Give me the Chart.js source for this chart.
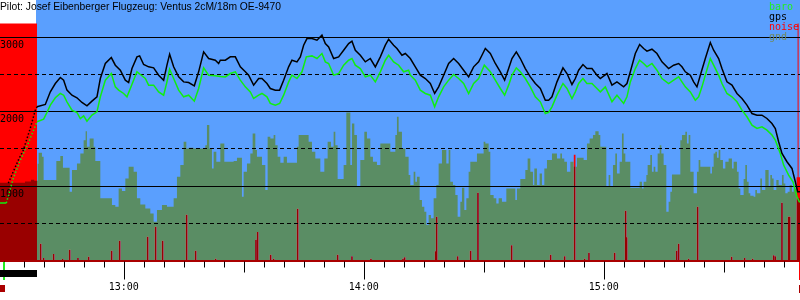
<!DOCTYPE html>
<html><head><meta charset="utf-8">
<script src="https://cdn.jsdelivr.net/npm/chart.js@4.4.0/dist/chart.umd.min.js"></script>
<style>html,body{margin:0;padding:0;background:#fff}#wrap{width:800px;height:300px}</style>
</head><body><div id="wrap"><canvas id="c" width="800" height="300"></canvas></div>
<script>
// ---- texts ----
const titleText = "Pilot: Josef Eibenberger Flugzeug: Ventus 2cM/18m OE-9470";
const seriesNames = ["baro", "gps", "noise", "gnd"];
// ---- axes (time in minutes after midnight, altitude in m) ----
const timeMin = 749.05, timeMax = 949.05;
const altMin = 0, altMax = 3500;
const yTickLabels = [1000, 2000, 3000];
const yDashedTicks = [500, 1500, 2500];
const xTickTimes = [780, 840, 900];
const xTickLabels = ["13:00", "14:00", "15:00"];
const flightStart = 758.05;      // plot background begins
const engineRun = [749.05, 758.3];
const takeoffMark = 750.13, landingMark = 948.85;
const dotted = {baro: [750.6, 758.3], gps: [751.0, 758.3]};

// ---- series ----
const gpsTrack = [[751.13,1040],[753.63,1349],[754.88,1483],[756.63,1779],[757.88,2020],
[758.29,2065],[760.38,2096],[761.63,2266],[762.88,2378],[764.13,2459],[764.96,2423],[765.79,2289],[767.04,2221],[768.29,2186],[769.54,2123],[770.79,2078],[772.04,2141],[773.29,2199],[774.13,2445],[775.38,2647],[776.88,2727],[777.88,2624],[779.13,2557],[780.38,2423],[781.21,2391],[782.04,2579],[783.29,2736],[783.96,2749],[784.96,2633],[786.21,2602],[787.46,2588],[788.71,2490],[789.96,2423],[790.79,2624],[791.46,2772],[792.46,2602],[793.71,2467],[794.96,2400],[796.21,2391],[797.63,2347],[798.71,2535],[799.96,2803],[801.21,2714],[802.88,2691],[803.71,2647],
[804.13,2691],[805.38,2691],[806.63,2736],[807.88,2736],[809.13,2602],[810.38,2535],[811.21,2490],[812.46,2356],[813.71,2445],[814.54,2445],[815.79,2378],[816.63,2311],[817.88,2289],[818.96,2289],[819.96,2423],[821.21,2602],[822.04,2691],[823.29,2669],[824.13,2736],[824.96,2893],[825.79,2982],[827.04,2982],[828.29,2960],[829.54,3027],[830.38,2915],[831.21,2870],[832.46,2714],[833.71,2736],[834.96,2825],[836.21,2915],[837.04,2946],[837.88,2825],[839.13,2758],[840.38,2669],[841.63,2714],[842.88,2602],[844.13,2736],[845.38,2893],[846.21,2973],[847.46,2893],[848.29,2848],[849.54,2758],[850.38,2781],
[851.63,2714],[852.88,2602],[854.13,2490],[855.38,2445],[856.63,2378],[857.71,2244],[858.71,2333],[859.96,2490],[861.21,2647],[862.46,2714],[863.71,2647],[864.96,2557],[866.21,2467],[867.46,2602],[868.71,2669],[869.54,2758],[870.38,2848],[871.63,2781],[872.88,2647],[874.13,2535],[875.21,2423],[876.21,2579],[877.04,2714],[878.13,2803],[879.13,2714],[880.38,2579],[881.63,2467],[882.88,2378],[884.13,2311],[885.38,2154],[886.21,2154],[887.04,2199],[888.29,2400],[889.79,2588],[890.79,2512],[892.04,2365],[892.88,2445],[893.71,2557],[894.79,2633],[895.79,2579],[897.04,2579],[898.29,2490],
[899.13,2445],[900.79,2512],[902.04,2356],[903.29,2400],[904.96,2333],[905.79,2378],[906.63,2535],[907.88,2781],[908.96,2902],[909.96,2848],[910.79,2812],[912.04,2839],[913.29,2781],[914.54,2669],[916.21,2579],[917.46,2624],[918.71,2647],[919.54,2602],[920.38,2535],[921.63,2490],[922.46,2400],[923.29,2333],[924.13,2490],[925.38,2714],[926.63,2928],[927.46,2825],[928.71,2714],[929.54,2579],[930.79,2400],[932.04,2356],[933.29,2244],[934.54,2177],[935.79,2087],[937.04,1975],[938.29,1953],[939.54,1953],[940.79,1908],[942.04,1841],[942.88,1774],[943.71,1595],[944.54,1438],[945.79,1327],[947.04,1237],[947.88,1058],[948.46,924],[949.13,924]];

const baroTrack = [[749.05,772],[750.63,772],[752.38,1107],[754.13,1349],[756.13,1577],
[758.29,1864],[759.96,1899],[760.79,1989],[761.63,2087],[762.88,2186],[764.13,2244],[764.96,2221],[765.79,2132],[767.04,2020],[768.29,1989],[769.13,1908],[769.96,1944],[770.79,1872],[772.04,1953],[773.29,1998],[774.13,2199],[775.38,2423],[776.88,2512],[777.88,2333],[778.71,2289],[779.96,2244],[780.79,2199],[781.63,2311],[783.29,2535],[784.13,2499],[785.38,2445],[786.21,2356],[787.46,2356],[788.71,2266],[789.96,2221],[790.79,2400],[791.46,2570],[792.46,2445],[793.71,2289],[794.96,2199],[796.21,2221],[797.63,2141],[798.71,2311],[799.96,2588],[801.21,2490],[802.88,2481],
[804.13,2472],[805.38,2467],[806.63,2512],[807.88,2535],[809.13,2423],[810.38,2333],[811.63,2266],[812.46,2177],[813.71,2221],[814.54,2244],[815.79,2199],[816.63,2110],[817.88,2087],[818.96,2110],[819.96,2221],[821.21,2400],[822.04,2490],[823.29,2445],[824.54,2535],[825.63,2736],[827.04,2749],[828.29,2714],[829.54,2781],[830.38,2669],[831.21,2647],[832.46,2490],[833.71,2512],[834.96,2624],[836.21,2691],[837.04,2714],[837.88,2624],[839.13,2579],[840.38,2467],[841.63,2490],[842.88,2400],[844.13,2535],[845.38,2691],[846.21,2758],[847.46,2669],[848.71,2624],[849.96,2535],[851.21,2557],
[851.63,2490],[852.88,2423],[854.13,2289],[855.38,2244],[856.63,2221],[857.71,2065],[858.71,2199],[859.96,2333],[861.21,2423],[862.46,2499],[863.71,2445],[864.96,2378],[866.21,2244],[867.46,2378],[868.71,2445],[870.13,2624],[871.63,2535],[872.88,2423],[874.13,2311],[875.21,2221],[876.21,2356],[877.04,2490],[878.13,2588],[879.13,2535],[880.38,2445],[881.63,2333],[882.88,2199],[884.13,2132],[885.38,1975],[886.21,1989],[887.04,2065],[888.29,2221],[889.79,2378],[890.79,2311],[892.04,2177],[892.88,2266],[893.71,2378],[894.79,2445],[895.79,2378],[897.04,2378],[898.29,2311],
[899.13,2266],[900.38,2333],[902.04,2132],[903.29,2221],[904.96,2110],[905.79,2199],[906.63,2400],[907.88,2579],[908.96,2691],[909.96,2647],[910.79,2602],[912.04,2647],[913.29,2557],[914.54,2445],[916.21,2378],[917.46,2423],[918.71,2467],[919.54,2400],[920.38,2333],[921.63,2266],[922.88,2154],[923.71,2199],[924.54,2333],[925.63,2535],[926.63,2714],[927.46,2624],[928.71,2490],[929.54,2378],[930.79,2244],[932.04,2199],[933.29,2132],[934.54,2020],[935.79,1931],[937.04,1819],[938.29,1774],[939.54,1796],[940.79,1752],[942.04,1685],[942.88,1617],[944.13,1438],[944.96,1282],[946.21,1148],[947.29,1058],[948.29,857],[948.88,790],[949.13,790]];

const gndSteps = [[749.05,1045],[755.3,1060],[756.8,1085],[757.6,1070],
[758.46,1300],[758.71,1447],[759.54,1394],[759.96,1081],[763.13,1336],[764.13,1403],[764.79,1246],[766.46,924],[767.04,1215],[768.29,1304],[769.13,1438],[769.96,1617],[770.46,1738],[770.79,1528],[771.46,1640],[772.46,1528],[772.88,1336],[774.13,835],[777.04,745],[777.88,723],[778.71,969],[779.54,933],[780.38,1103],[781.21,1260],[782.46,1192],[783.29,835],[784.13,754],[785.38,700],[786.63,633],[787.46,521],[788.29,678],[789.54,745],[790.79,723],[792.46,835],[793.29,1125],[794.13,1282],[794.96,1595],[795.63,1506],[796.21,1515],[797.46,1506],[800.38,1550],[800.79,1819],[801.38,1506],[802.04,1237],[802.46,1461],[803.13,1327],
[804.13,1573],[805.13,1327],[807.46,1336],[808.29,1380],[809.54,857],[809.96,1192],[810.79,1304],[811.63,1438],[812.21,1707],[812.88,1483],[813.29,1394],[814.54,1282],[815.38,946],[815.96,1662],[816.63,1640],[817.46,1685],[817.88,1550],[818.46,1394],[819.13,1313],[819.96,1394],[820.79,1313],[823.29,1528],[823.71,1685],[826.21,1595],[827.04,1461],[827.88,1371],[829.13,1192],[830.13,1371],[830.96,1595],[831.79,1528],[832.46,1729],[832.88,1550],[833.46,1094],[834.96,1282],[835.63,1989],[836.63,1282],[837.04,1841],[837.63,1685],[838.29,991],[839.13,1349],[840.13,1729],[840.79,1640],[841.63,1394],[842.29,1327],[843.29,1282],[844.13,1573],[846.63,1461],[847.88,1685],[848.29,1931],[848.71,1729],[849.54,1506],[850.38,1394],[851.21,1148],
[851.63,1013],[852.46,1192],[852.88,1058],[853.29,1125],[853.96,812],[854.54,723],[855.13,656],[855.63,477],[856.21,611],[856.79,566],[857.46,835],[858.13,1013],[858.71,1304],[859.54,1483],[860.63,1304],[861.21,1483],[861.63,1058],[862.29,1013],[862.88,879],[863.46,588],[864.13,790],[864.54,978],[865.13,678],[865.63,835],[866.21,1192],[866.63,1327],[868.29,1438],[869.96,1595],[870.38,1573],[871.21,1461],[871.63,879],[872.46,835],[873.13,767],[873.71,835],[874.54,790],[875.63,969],[877.88,812],[878.29,969],[879.13,1094],[880.38,1215],[880.96,1371],[881.63,1192],[882.29,1013],[882.63,1237],[883.29,1013],[883.96,1170],[884.54,1013],[885.13,1237],[885.79,1349],[887.04,1438],[888.29,1371],[889.13,1438],[889.54,1371],[890.13,1327],[890.79,1192],[891.63,1327],[892.46,1260],[893.29,1380],[894.96,1349],[895.79,1573],[896.46,1640],[897.29,1685],[897.88,1738],[898.71,1685],
[899.13,1528],[900.63,991],[901.21,1148],[901.63,991],[902.29,1282],[902.88,1438],[903.29,1170],[903.96,1327],[904.54,1707],[904.96,1438],[905.38,1327],[906.63,978],[908.96,1058],[909.54,969],[909.96,1058],[910.63,1148],[910.96,1282],[911.63,1416],[912.04,1192],[912.46,1260],[912.88,1192],[913.46,1438],[913.96,1550],[914.38,1438],[914.96,1282],[915.63,656],[916.21,790],[916.63,924],[917.04,1157],[919.13,1617],[919.54,1685],[920.38,1729],[920.79,1573],[921.21,1685],[921.63,1192],[922.46,902],[923.29,1192],[923.71,1349],[924.13,1260],[926.63,1170],[927.04,1260],[927.46,1438],[927.88,1461],[928.29,1380],[928.71,1483],[929.13,1349],[929.79,1237],[930.38,1327],[931.21,1371],[932.04,1237],[932.46,1327],[933.29,1192],[933.71,969],[934.13,879],[934.96,1094],[935.38,1282],[935.79,1058],[936.21,902],[936.63,870],[937.46,857],[937.88,946],[938.29,902],[939.13,1103],[939.54,946],[940.38,1215],[941.21,991],[941.63,1148],[942.04,1103],[942.46,946],[943.13,1081],[943.71,1013],[944.54,1148],[944.96,1036],[945.38,902],[945.96,924],[946.46,1013],[947.04,924],[947.46,969],[948.29,835],[949.13,835]];

const noiseSpikes = [[759.21,222],[759.96,29],[762.46,83],[764.71,16],[766.46,141],[768.54,29],[771.21,47],[776.96,128],[778.96,262],[785.96,316],[787.96,450],[789.71,262],[795.71,611],[797.96,128],[802.96,20],[813.04,275],[813.46,378],[816.71,74],[817.46,20],[823.46,691],[833.46,74],[837.04,52],[841.79,20],[849.79,20],[850.21,38],[857.96,119],[858.21,584],[863.46,52],[866.71,128],[868.54,906],[876.96,199],[886.71,74],[890.21,52],[892.71,1416],[895.21,20],[896.29,101],[902.71,101],[905.46,664],[905.71,307],[918.21,128],[918.71,222],[921.21,20],[923.46,718],[931.96,47],[935.21,29],[937.21,20],[942.46,65],[942.88,52],[944.54,772],[946.21,584],[946.46,584]];
const noiseLevel = [[749.05,3185],[758.3,0],[948.2,1120],[948.45,3185],[948.7,1120],[949.05,1120]];

// ---- colours ----
const BLUE = '#5a9ffe', RED = '#ff0000', DARKRED = '#aa0000';
const GREEN = '#10ee10', GND = 'rgb(153,141,100)';
const legendColors = ['#22ee22', '#000000', '#ff0000', '#6f8a62'];

const toXY = arr => arr.map(p => ({x: p[0], y: p[1]}));
const px = (c, t) => c.scales.x.getPixelForValue(t);
const py = (c, v) => c.scales.y.getPixelForValue(v);
const MONO = '10px "DejaVu Sans Mono", monospace';

function dashFor(range) {
  return ctx => (ctx.p0.parsed.x >= range[0] && ctx.p1.parsed.x <= range[1]) ? [1.5, 2] : undefined;
}

function drawGrid(chart) {
  const ctx = chart.ctx, a = chart.chartArea;
  ctx.save();
  ctx.strokeStyle = '#000'; ctx.lineWidth = 1;
  yTickLabels.forEach(v => {
    const y = Math.floor(py(chart, v)) + 0.5;
    ctx.setLineDash([]); ctx.beginPath(); ctx.moveTo(a.left, y); ctx.lineTo(a.right, y); ctx.stroke();
  });
  yDashedTicks.forEach(v => {
    const y = Math.floor(py(chart, v)) + 0.5;
    ctx.setLineDash([4, 3]); ctx.beginPath(); ctx.moveTo(a.left, y); ctx.lineTo(a.right, y); ctx.stroke();
  });
  ctx.setLineDash([]);
  ctx.fillStyle = DARKRED;
  ctx.fillRect(a.left, Math.round(py(chart, 0)) - 1, a.right - a.left, 2);
  ctx.fillStyle = '#000'; ctx.font = MONO; ctx.textAlign = 'left'; ctx.textBaseline = 'alphabetic';
  yTickLabels.forEach(v => ctx.fillText(String(v), 0, py(chart, v) + 10.5));
  ctx.restore();
}

const decor = {
  id: 'decor',
  beforeDraw(chart) {
    const ctx = chart.ctx, a = chart.chartArea;
    ctx.save();
    ctx.fillStyle = '#fff'; ctx.fillRect(0, 0, chart.width, chart.height);
    const x0 = px(chart, flightStart);
    ctx.fillStyle = BLUE; ctx.fillRect(x0, a.top, a.right - x0, a.bottom - a.top);
    ctx.restore();
  },
  afterDatasetDraw(chart, args) {
    const ds = chart.data.datasets[args.index];
    if (ds.label === 'noise') { chart.ctx.save(); chart.ctx.globalCompositeOperation = 'darken'; }
    if (ds.label === 'gnd') { chart.ctx.restore(); drawGrid(chart); }
  },
  afterDraw(chart) {
    const ctx = chart.ctx, a = chart.chartArea;
    ctx.save();
    // time ticks
    ctx.strokeStyle = '#000'; ctx.lineWidth = 1;
    for (let t = Math.ceil(timeMin / 5) * 5; t <= timeMax; t += 5) {
      const x = Math.round(px(chart, t)) + 0.5;
      const len = t % 60 === 0 ? 18 : (t % 30 === 0 ? 11 : 6);
      ctx.beginPath(); ctx.moveTo(x, a.bottom + 1); ctx.lineTo(x, a.bottom + 1 + len); ctx.stroke();
    }
    ctx.fillStyle = '#000'; ctx.font = MONO; ctx.textAlign = 'center'; ctx.textBaseline = 'alphabetic';
    xTickTimes.forEach((t, i) => ctx.fillText(xTickLabels[i], px(chart, t), 290));
    // markers under the axis
    ctx.fillStyle = '#22ee22'; ctx.fillRect(Math.round(px(chart, takeoffMark)) - 1, 262, 2, 18);
    ctx.fillStyle = '#000';
    const e0 = px(chart, engineRun[0]), e1 = px(chart, engineRun[1]);
    ctx.fillRect(e0, 270, e1 - e0, 7);
    ctx.fillStyle = DARKRED; ctx.fillRect(0, 285, Math.round(px(chart, takeoffMark)) + 1, 7);
    const xl = Math.round(px(chart, landingMark));
    ctx.fillStyle = RED; ctx.fillRect(xl, 262, 2, 18);
    ctx.fillStyle = DARKRED; ctx.fillRect(xl, 285, 2, 8);
    // legend
    ctx.font = MONO; ctx.textAlign = 'left';
    seriesNames.forEach((n, i) => { ctx.fillStyle = legendColors[i]; ctx.fillText(n, 769, 10 + i * 10); });
    // title
    ctx.fillStyle = '#000'; ctx.font = '10.3px "Liberation Sans", Arial, sans-serif';
    ctx.fillText(titleText, 0, 10);
    ctx.restore();
  }
};

new Chart(document.getElementById('c'), {
  type: 'line',
  data: {
    datasets: [
      {label: 'gps', data: toXY(gpsTrack), borderColor: '#000', borderWidth: 1.5, pointRadius: 0,
       fill: false, order: 0, segment: {borderDash: dashFor(dotted.gps)}},
      {label: 'baro', data: toXY(baroTrack), borderColor: GREEN, borderWidth: 1.5, pointRadius: 0,
       fill: false, order: 1, segment: {borderDash: dashFor(dotted.baro)}},
      {label: 'gnd', data: toXY(gndSteps), stepped: true, fill: 'origin', backgroundColor: GND,
       borderWidth: 0, borderColor: 'rgba(0,0,0,0)', pointRadius: 0, order: 2},
      {label: 'noise', type: 'bar', data: toXY(noiseSpikes), backgroundColor: RED, borderWidth: 0,
       barThickness: 1, order: 3},
      {label: 'noiseLevel', data: toXY(noiseLevel), stepped: true, fill: 'origin', backgroundColor: RED,
       borderWidth: 0, borderColor: 'rgba(0,0,0,0)', pointRadius: 0, order: 4}
    ]
  },
  options: {
    responsive: false, animation: false, devicePixelRatio: 1, events: [],
    layout: {padding: {left: 0, right: 0, top: 0, bottom: 39.5}},
    scales: {
      x: {type: 'linear', min: timeMin, max: timeMax, display: false, offset: false},
      y: {type: 'linear', min: altMin, max: altMax, display: false}
    },
    plugins: {legend: {display: false}, title: {display: false}, tooltip: {enabled: false}}
  },
  plugins: [decor]
});
</script></body></html>
